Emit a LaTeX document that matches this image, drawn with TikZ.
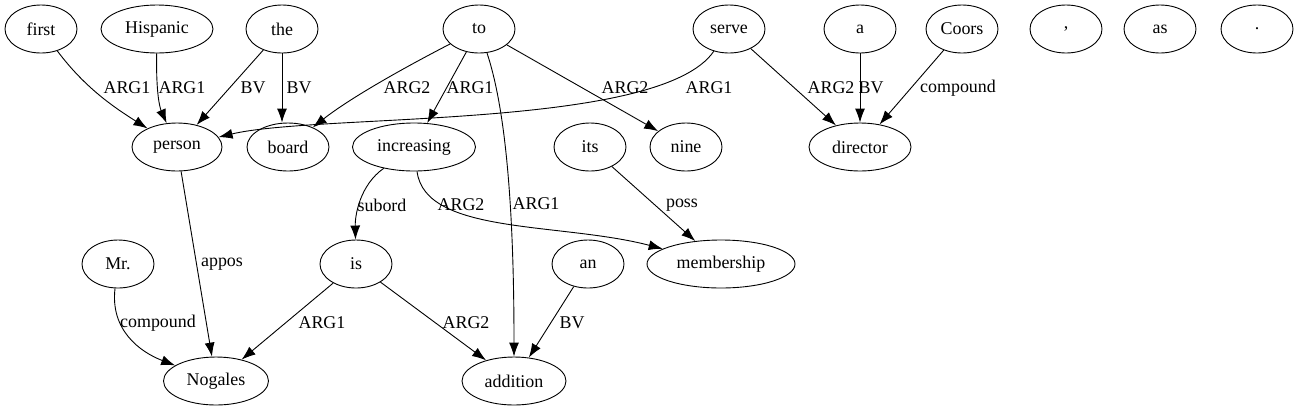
\documentclass[tikz,border=0pt]{standalone}
\usepackage{fontspec}
\setmainfont{Liberation Serif}
\usetikzlibrary{arrows.meta}
\usetikzlibrary{shapes.geometric}

\begin{document}
\begin{tikzpicture}[x=1bp, y=-1bp,
  word/.style={draw, ellipse, line width=0.9bp, inner sep=0pt,
    minimum width=72bp, minimum height=48bp, font=\fontsize{18}{20}\selectfont},
  edge/.style={-{Latex[length=14bp,width=10bp]}, line width=0.9bp},
  lbl/.style={inner sep=0pt, font=\fontsize{18}{20}\selectfont}]
\useasboundingbox (0,0) rectangle (1299,411);

 %words
 \node[word] (first) at (41,29) {first};
 \node[word, minimum width=112bp] (hispanic) at (157,29) {Hispanic};
 \node[word] (the) at (282,29) {the};
 \node[word] (to) at (479,29) {to};
 \node[word] (serve) at (729,29) {serve};
 \node[word] (a) at (860,29) {a};
 \node[word] (coors) at (962,29) {Coors};
 \node[word] (comma) at (1066,29) {,};
 \node[word] (as) at (1160,29) {as};
 \node[word] (period) at (1257,29) {.};

 \node[word, minimum width=90bp] (person) at (177,147) {person};
 \node[word, minimum width=82bp] (board) at (288,147) {board};
 \node[word, minimum width=123bp] (increasing) at (414,147) {increasing};
 \node[word] (its) at (590,147) {its};
 \node[word] (nine) at (686,147) {nine};
 \node[word, minimum width=102bp] (director) at (860,147) {director};

 \node[word] (mr) at (118,264) {Mr.};
 \node[word] (is) at (356,264) {is};
 \node[word] (an) at (588,264) {an};
 \node[word, minimum width=148bp] (membership) at (721,264) {membership};

 \node[word, minimum width=105bp] (nogales) at (216,381) {Nogales};
 \node[word, minimum width=104bp] (addition) at (514,381) {addition};

 %edges
 \draw[edge] (first) .. controls (85,88) and (115,108) .. (person) node[lbl] at (127,88) {ARG1};
 \draw[edge] (hispanic) .. controls (156,95) and (160,108) .. (person) node[lbl] at (182,88) {ARG1};
 \draw[edge] (the) -- (person) node[lbl] at (253,88) {BV};
 \draw[edge] (the.south) -- (the.south |- board.north) node[lbl] at (299,88) {BV};
 \draw[edge] (to) .. controls (390,75) and (345,102) .. (board) node[lbl] at (407,88) {ARG2};
 \draw[edge] (to) -- (increasing) node[lbl] at (470,88) {ARG1};
 \draw[edge] (to) .. controls (506,110) and (514,210) .. (addition) node[lbl] at (536,204) {ARG1};
 \draw[edge] (to) -- (nine) node[lbl] at (625,88) {ARG2};
 \draw[edge] (serve) .. controls (660,130) and (320,113) .. (person) node[lbl] at (709,88) {ARG1};
 \draw[edge] (serve) -- (director) node[lbl] at (831,88) {ARG2};
 \draw[edge] (a) -- (director) node[lbl] at (871,88) {BV};
 \draw[edge] (coors) -- (director) node[lbl] at (958,88) {compound};

 \draw[edge] (person) -- (nogales) node[lbl] at (222,264) {appos};
 \draw[edge] (increasing) .. controls (360,185) and (355,215) .. (is) node[lbl] at (382,205) {subord};
 \draw[edge] (increasing) .. controls (425,235) and (560,222) .. (membership) node[lbl] at (461,205) {ARG2};
 \draw[edge] (its) -- (membership) node[lbl] at (682,205) {poss};

 \draw[edge] (mr) .. controls (110,330) and (140,352) .. (nogales) node[lbl] at (158,323) {compound};
 \draw[edge] (is) -- (nogales) node[lbl] at (322,323) {ARG1};
 \draw[edge] (is) -- (addition) node[lbl] at (466,323) {ARG2};
 \draw[edge] (an) -- (addition) node[lbl] at (572,323) {BV};
\end{tikzpicture}
\end{document}
